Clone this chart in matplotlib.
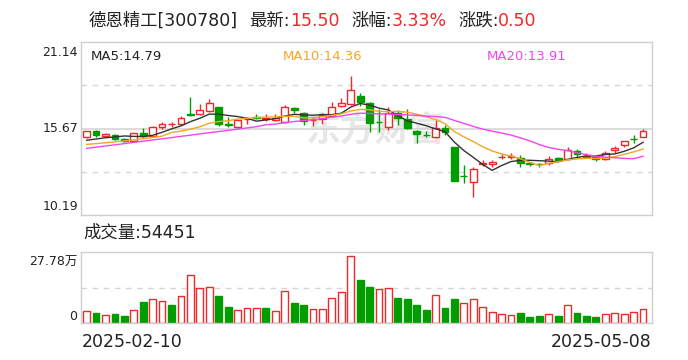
import matplotlib
matplotlib.use('Agg')
import matplotlib.pyplot as plt
import numpy as np
import pandas as pd

plt.rcParams['font.family'] = ['DejaVu Sans', 'Noto Sans CJK SC']

# 德恩精工 300780, daily K line 2025-02-10 .. 2025-05-08
stock_name = '德恩精工[300780]'
first_date = '2025-02-10'
last_date = '2025-05-08'

opens = [15.11, 15.49, 15.21, 15.23, 14.98, 14.86, 15.40, 15.19, 15.78, 15.94,
         15.93, 16.57, 16.56, 16.75, 17.03, 15.92, 15.74, 16.25, 16.38, 16.26,
         16.22, 16.10, 16.94, 16.67, 16.18, 16.27, 16.48, 17.09, 17.22, 17.72,
         17.26, 16.08, 15.74, 16.67, 16.25, 15.51, 15.27, 15.11, 15.68, 14.47,
         12.68, 12.30, 13.42, 13.40, 13.86, 13.88, 13.82, 13.46, 13.43, 13.46,
         13.82, 13.71, 14.26, 13.89, 13.86, 13.71, 14.33, 14.62, 15.02, 15.11]
highs = [15.52, 15.57, 15.40, 15.32, 15.04, 15.38, 15.67, 15.80, 16.09, 16.09,
         16.46, 17.64, 17.24, 17.53, 17.05, 16.39, 16.22, 16.37, 16.58, 16.58,
         16.56, 17.15, 17.05, 16.73, 16.41, 16.64, 17.34, 17.58, 19.01, 17.89,
         17.36, 16.90, 17.05, 16.82, 16.88, 15.55, 15.51, 16.20, 15.89, 14.50,
         13.35, 13.21, 13.67, 13.67, 14.03, 14.09, 13.99, 13.56, 13.45, 13.90,
         13.86, 14.47, 14.35, 14.13, 13.88, 14.26, 14.56, 14.90, 15.25, 15.63]
lows = [15.05, 15.15, 15.15, 14.96, 14.81, 14.84, 15.10, 15.15, 15.66, 15.78,
        15.90, 16.46, 16.54, 16.72, 15.84, 15.78, 15.72, 15.95, 16.25, 16.12,
        16.16, 16.00, 16.63, 15.89, 15.82, 15.98, 16.45, 17.01, 17.15, 17.11,
        15.46, 15.46, 15.60, 15.86, 15.61, 14.73, 15.15, 15.08, 15.25, 12.34,
        12.23, 11.31, 13.29, 13.25, 13.73, 13.71, 13.21, 13.31, 13.21, 13.34,
        13.63, 13.69, 13.82, 13.84, 13.63, 13.67, 14.13, 14.47, 14.73, 15.11]
closes = [15.49, 15.27, 15.32, 15.02, 14.86, 15.36, 15.21, 15.74, 15.95, 15.94,
          16.31, 16.55, 16.81, 17.26, 15.93, 15.90, 16.20, 16.29, 16.33, 16.31,
          16.32, 17.01, 16.84, 16.16, 16.20, 16.52, 17.01, 17.26, 18.10, 17.34,
          16.03, 16.05, 16.67, 16.31, 15.68, 15.30, 15.24, 15.68, 15.43, 12.34,
          12.66, 13.08, 13.45, 13.54, 13.88, 13.91, 13.50, 13.43, 13.41, 13.76,
          13.67, 14.29, 14.03, 13.91, 13.75, 14.12, 14.45, 14.88, 15.00, 15.50]
# volume in 万手
volumes = [4.78, 4.0, 3.1, 3.6, 2.84, 5.17, 8.27, 9.3, 8.66, 7.1,
           10.47, 18.7, 13.7, 13.95, 10.6, 6.33, 5.17, 5.8, 5.8, 5.94,
           4.78, 12.5, 7.9, 7.1, 5.4, 5.4, 9.7, 12.1, 26.1, 16.8,
           14.1, 13.3, 13.7, 9.8, 9.4, 7.1, 5.17, 10.85, 5.94, 9.4,
           7.9, 9.3, 6.2, 4.26, 3.5, 3.1, 4.0, 2.45, 2.84, 3.5,
           2.84, 7.0, 4.0, 2.84, 2.45, 3.5, 3.9, 3.5, 4.4, 5.4451]

# moving-average values before enough days are on screen
ma5_head = [14.92, 15.00, 15.08, 15.13]
ma10_head = [14.66, 14.71, 14.76, 14.82, 14.88, 14.94, 15.02, 15.10, 15.18]
ma20_head = [14.41, 14.48, 14.56, 14.63, 14.71, 14.79, 14.86, 14.94, 15.01, 15.09,
             15.17, 15.24, 15.32, 15.40, 15.47, 15.55, 15.62, 15.70, 15.78]

price_top = 21.14
price_bottom = 10.19
vol_top = 27.78

RED = '#f0282a'
GREEN = '#009c00'
GRID = '#d6d6d6'
FRAME = '#cfcfcf'

W, H = 688, 360
fig = plt.figure(figsize=(W / 100, H / 100), dpi=100)


def fx(x):
    return x / W


def fy(y):
    return 1 - y / H


o = np.array(opens)
h = np.array(highs)
l = np.array(lows)
c = np.array(closes)
v = np.array(volumes)
x = np.arange(len(c))

s = pd.Series(c)
ma5 = s.rolling(5).mean().values
ma10 = s.rolling(10).mean().values
ma20 = s.rolling(20).mean().values
ma5[:len(ma5_head)] = ma5_head
ma10[:len(ma10_head)] = ma10_head
ma20[:len(ma20_head)] = ma20_head

# ---- price panel
ax = fig.add_axes([fx(81), fy(215), fx(652) - fx(81), fy(42) - fy(215)])
ax.set_xlim(-0.6, len(c) - 0.05)
ax.set_ylim(price_bottom, price_top)
mid = (price_top + price_bottom) / 2
q1 = price_bottom + (price_top - price_bottom) / 4
q3 = price_bottom + (price_top - price_bottom) * 3 / 4
ax.axhline(mid, color=GRID, lw=1.2, zorder=1)
for q in (q1, q3):
    ax.axhline(q, color=GRID, lw=1.0, ls=(0, (4, 4)), zorder=1)

# watermark
ax.text(0.515, 0.49, '东方财富', transform=ax.transAxes, ha='center', va='center',
        fontsize=25, fontweight='bold', color='#e7e7e7', family='Noto Sans CJK SC',
        zorder=0.5)

up = c >= o
body_lo = np.minimum(o, c)
body_hi = np.maximum(o, c)
body_h = np.maximum(body_hi - body_lo, 0.015)
cols = np.where(up, RED, GREEN)
ax.vlines(x, l, body_lo, colors=cols, lw=1.0, zorder=2)
ax.vlines(x, body_hi, h, colors=cols, lw=1.0, zorder=2)
ax.bar(x, body_h, bottom=body_lo, width=0.72,
       facecolor=np.where(up, 'white', GREEN), edgecolor=cols, linewidth=1.0, zorder=2)

ax.plot(x, ma5, color='#333333', lw=1.0, zorder=3)
ax.plot(x, ma10, color='#f5a623', lw=1.0, zorder=3)
ax.plot(x, ma20, color='#f046f0', lw=1.0, zorder=3)

ax.set_xticks([])
ax.set_yticks([])
for sp in ax.spines.values():
    sp.set_color(FRAME)
    sp.set_linewidth(1.0)

# ---- volume panel
ax2 = fig.add_axes([fx(81), fy(323), fx(652) - fx(81), fy(252) - fy(323)])
ax2.set_xlim(-0.6, len(c) - 0.05)
ax2.set_ylim(0, vol_top)
ax2.axhline(vol_top / 2, color=GRID, lw=1.0, ls=(0, (4, 4)), zorder=1)
prev = np.concatenate([[o[0]], c[:-1]])
vup = c >= prev
vcols = np.where(vup, RED, GREEN)
ax2.bar(x, v, width=0.72, facecolor=np.where(vup, 'white', GREEN),
        edgecolor=vcols, linewidth=1.0, zorder=2)
ax2.set_xticks([])
ax2.set_yticks([])
for sp in ax2.spines.values():
    sp.set_color(FRAME)
    sp.set_linewidth(1.0)

# ---- texts
big = 12.5
chg = c[-1] - c[-2]
pct = chg / c[-2] * 100
title_y = fy(21)
pieces = [(89, stock_name, '#222222'), (249, '最新:', '#222222'),
          (290, f'{c[-1]:.2f}', RED), (351, '涨幅:', '#222222'),
          (392, f'{pct:.2f}%', RED), (458, '涨跌:', '#222222'),
          (498, f'{chg:.2f}', RED)]
for px_, t, col in pieces:
    fig.text(fx(px_), title_y, t, color=col, fontsize=big, ha='left', va='center')

small = 9
fig.text(fx(78), fy(52), f'{price_top:.2f}', fontsize=small, ha='right', va='center', color='#222222')
fig.text(fx(78), fy(128.5), f'{mid + 1e-9:.2f}', fontsize=small, ha='right', va='center', color='#222222')
fig.text(fx(78), fy(207), f'{price_bottom:.2f}', fontsize=small, ha='right', va='center', color='#222222')

fig.text(fx(91), fy(57), f'MA5:{ma5[-1] + 1e-9:.2f}', fontsize=9.5, color='#222222', va='center')
fig.text(fx(283), fy(57), f'MA10:{ma10[-1] + 1e-9:.2f}', fontsize=9.5, color='#f5a623', va='center')
fig.text(fx(487), fy(57), f'MA20:{ma20[-1] + 1e-9:.2f}', fontsize=9.5, color='#f046f0', va='center')

fig.text(fx(83), fy(233), f'成交量:{int(round(v[-1] * 10000))}', fontsize=big, ha='left', va='center', color='#222222')
fig.text(fx(77), fy(262), f'{vol_top:.2f}万', fontsize=small, ha='right', va='center', color='#222222')
fig.text(fx(77), fy(316), '0', fontsize=small, ha='right', va='center', color='#222222')

fig.text(fx(82), fy(342), first_date, fontsize=big, ha='left', va='center', color='#222222')
fig.text(fx(652), fy(342), last_date, fontsize=big, ha='right', va='center', color='#222222')

fig.savefig('out.png', dpi=100, facecolor='white')
